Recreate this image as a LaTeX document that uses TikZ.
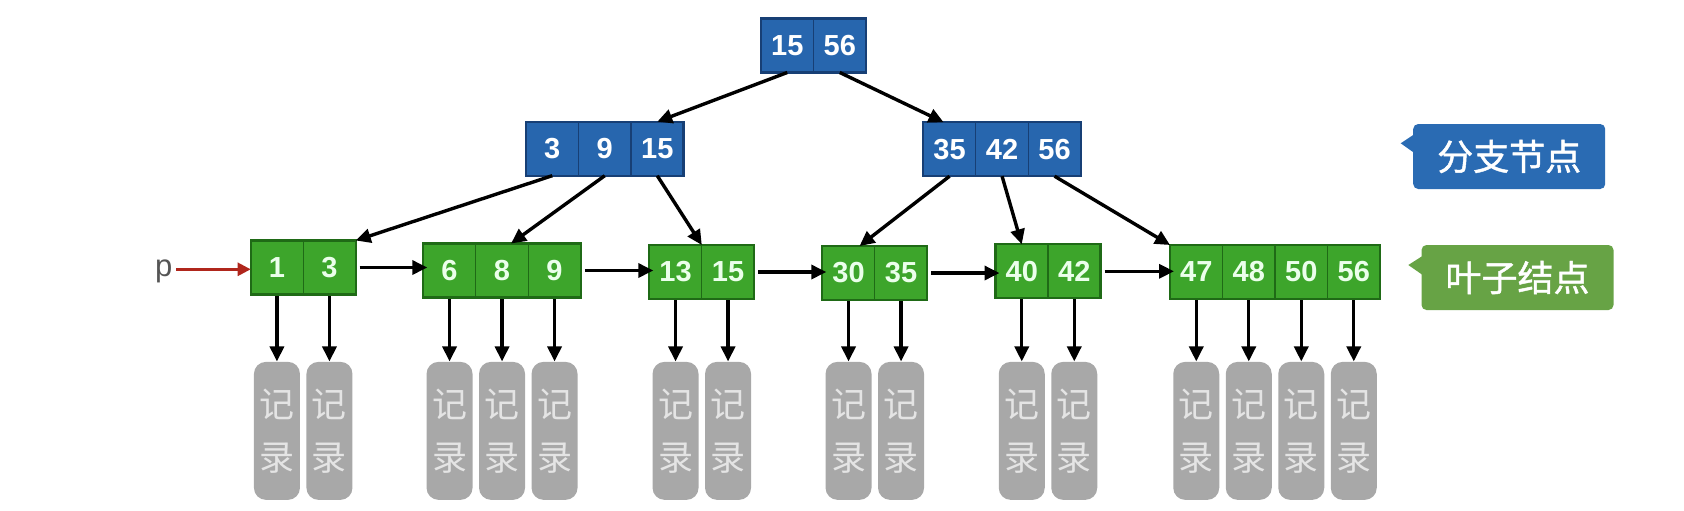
\documentclass[tikz,border=0pt]{standalone}
\usepackage{fontspec}
\setmainfont{Liberation Sans}
\newfontfamily\cjk{Noto Sans CJK SC}
\newfontfamily\cjkb[FakeBold=1.2]{Noto Sans CJK SC}
\usetikzlibrary{arrows.meta,calc}
\definecolor{bfill}{HTML}{2766AE}
\definecolor{bline}{HTML}{173F75}
\definecolor{gfill}{HTML}{3DA52B}
\definecolor{gline}{HTML}{1F6A16}
\definecolor{recfill}{HTML}{A8A8A8}
\definecolor{rectext}{HTML}{E4E4E4}
\definecolor{labblue}{HTML}{2A6BB3}
\definecolor{labgreen}{HTML}{67A345}
\definecolor{pred}{HTML}{B0261C}
\definecolor{ptext}{HTML}{555555}
\newcommand\mkleaf[5]{% name, left x, cy, values, count
  \foreach \v [count=\i] in {#4} {
    \node[gcell] (#1-\i) at (#2+52.5*\i-52.5, #3) {\v};
    \node[rec] (#1r\i) at (#1-\i |- recline) {记\\录};
    \draw[arr] (#1-\i) -- (#1r\i);
  }
  \draw[gborder] (#1-1.north west) rectangle (#1-#5.south east);
}
\newcommand\mkbranch[5]{% name, left x, cy, values, count
  \foreach \v [count=\i] in {#4} {
    \node[bcell] (#1-\i) at (#2+52.5*\i-52.5, #3) {\v};
  }
  \draw[bborder] (#1-1.north west) rectangle (#1-#5.south east);
}
\begin{document}
\begin{tikzpicture}[x=0.5pt,y=-0.5pt,
  cellbase/.style={minimum width=26.25pt, minimum height=27pt, inner sep=0pt,
    outer sep=0pt, anchor=west, font=\bfseries\fontsize{14.5}{16}\selectfont, line width=0.6pt},
  bcell/.style={cellbase, fill=bfill, draw=bline, text=white},
  gcell/.style={cellbase, fill=gfill, draw=gline, text=white!92!green},
  bborder/.style={draw=bline, line width=1.1pt},
  gborder/.style={draw=gline, line width=1.1pt},
  rec/.style={fill=recfill, rounded corners=6pt, minimum width=23pt, minimum height=69pt,
    inner sep=0pt, text=rectext, align=center, font=\cjk\fontsize{17.5}{26.5}\selectfont},
  arr/.style={-{Triangle[length=7.5pt,width=7pt]}, line width=1.7pt, draw=black},
  redarr/.style={-{Triangle[length=6.5pt,width=6.5pt]}, line width=1.3pt, draw=pred, color=pred},
  label/.style={rounded corners=2.5pt, minimum width=96pt, minimum height=32.5pt,
    text=white, inner sep=0pt, font=\cjkb\fontsize{18}{20}\selectfont},
]
\useasboundingbox (0,0) rectangle (1684,510);
\coordinate (recline) at (0,430.85);

% root and branch nodes
\mkbranch{R}{761}{45.5}{15,56}{2}
\mkbranch{B1}{526}{148.7}{3,9,15}{3}
\mkbranch{B2}{923.3}{149.2}{35,42,56}{3}

% leaves with records
\mkleaf{L1}{250.7}{267.5}{1,3}{2}
\mkleaf{L2}{423.3}{270.5}{6,8,9}{3}
\mkleaf{L3}{649.3}{272}{13,15}{2}
\mkleaf{L4}{822.3}{273}{30,35}{2}
\mkleaf{L5}{995.5}{271.3}{40,42}{2}
\mkleaf{L6}{1170}{272}{47,48,50,56}{4}

% tree arrows
\draw[arr] (R-1.south) -- (B1-3.north);
\draw[arr] (R-2.south) -- ($(B2-1.north)+(-6,0)$);
\draw[arr] (B1-1.south) -- (L1-2.north east);
\draw[arr] (B1-2.south) -- ($(L2-2.north)+(9,0)$);
\draw[arr] (B1-3.south) -- (L3-1.north east);
\draw[arr] (B2-1.south) -- ($(L4-1.north)+(11,0)$);
\draw[arr] (B2-2.south) -- (L5-1.north);
\draw[arr] (B2-3.south) -- (L6-1.north west);

% leaf chain
\draw[arr] ([xshift=2pt]L1-2.east) -- ([xshift=2pt]L1-2.east -| L2-1.west);
\draw[arr] ([xshift=2pt]L2-3.east) -- ([xshift=2pt]L2-3.east -| L3-1.west);
\draw[arr] ([xshift=2pt]L3-2.east) -- ([xshift=2pt]L3-2.east -| L4-1.west);
\draw[arr] ([xshift=2pt]L4-2.east) -- ([xshift=2pt]L4-2.east -| L5-1.west);
\draw[arr] ([xshift=2pt]L5-2.east) -- ([xshift=2pt]L5-2.east -| L6-1.west);

% pointer p
\node[text=ptext, inner sep=0pt, anchor=base east, font=\fontsize{15.5}{16}\selectfont] (p) at (172.7,276.7) {p};
\coordinate (pstart) at (176,269.3);
\draw[redarr] (pstart) -- (pstart -| L1-1.west);

% legend labels
\node[label, fill=labblue] (lab1) at (1509.2,156.5) {分支节点};
\fill[labblue] ([yshift=-5.5pt,xshift=0.5pt]lab1.north west) -- (1400.7,143.3) -- ([yshift=-14.5pt,xshift=0.5pt]lab1.north west) -- cycle;
\node[label, fill=labgreen] (lab2) at (1517.5,277.5) {叶子结点};
\fill[labgreen] ([yshift=-5.8pt,xshift=0.5pt]lab2.north west) -- (1408.3,265) -- ([yshift=-15pt,xshift=0.5pt]lab2.north west) -- cycle;
\end{tikzpicture}
\end{document}
